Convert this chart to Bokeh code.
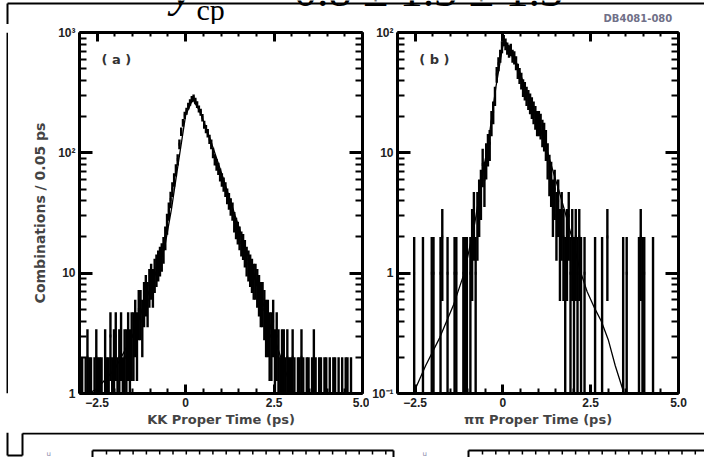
import json
import numpy as np
from bokeh.plotting import figure
from bokeh.layouts import column, row
from bokeh.models import (Range1d, FixedTicker, CustomJSTickFormatter, LinearAxis,
                          LogAxis, Label, ColumnDataSource)
from bokeh.core.properties import value
from bokeh.embed import file_html
from bokeh.resources import INLINE

# ---------------- data ----------------
BIN_WIDTH = 0.05            # ps per bin
FIRST_BIN_CENTER = -2.975   # ps

kk_counts = [
    1, 1, 0, 1, 2, 1, 1, 0, 1, 2,
    1, 1, 1, 0, 2, 1, 1, 3, 1, 2,
    3, 1, 2, 3, 1, 2, 2, 3, 2, 3,
    3, 4, 3, 5, 5, 4, 6, 7, 6, 8,
    9, 8, 10, 11, 12, 13, 14, 16, 20, 26,
    33, 41, 50, 60, 72, 88, 118, 150, 178, 205,
    222, 245, 262, 280, 288, 270, 252, 232, 218, 196,
    172, 158, 146, 130, 118, 100, 88, 80, 74, 66,
    60, 55, 50, 44, 40, 36, 33, 27, 24, 22,
    20, 18, 17, 15, 13, 12, 11, 10, 9, 9,
    8, 7, 6, 6, 5, 4, 4, 3, 3, 4,
    2, 3, 2, 1, 2, 2, 1, 2, 1, 1,
    2, 1, 0, 1, 1, 2, 1, 0, 1, 1,
    0, 1, 2, 1, 0, 1, 1, 0, 1, 1,
    0, 1, 0, 1, 1, 0, 1, 0, 1, 0,
    1, 1, 0, 1, 0, 0, 0, 0, 0, 0,
]

pp_counts = [
    0, 0, 0, 0, 0, 0, 0, 0, 0, 1,
    0, 0, 0, 0, 1, 0, 0, 0, 0, 1,
    1, 0, 0, 0, 1, 2, 0, 0, 1, 0,
    0, 0, 1, 1, 0, 0, 0, 1, 1, 1,
    0, 1, 2, 3, 1, 3, 4, 5, 8, 6,
    9, 11, 12, 18, 22, 30, 45, 55, 64, 76,
    86, 80, 74, 70, 72, 64, 62, 56, 48, 44,
    40, 35, 33, 30, 28, 26, 24, 22, 20, 18,
    18, 17, 15, 14, 12, 9, 7, 6, 4, 5,
    3, 4, 2, 3, 2, 1, 2, 3, 1, 2,
    1, 2, 1, 2, 1, 0, 1, 0, 0, 0,
    0, 0, 1, 0, 0, 0, 1, 0, 0, 2,
    0, 0, 0, 0, 0, 0, 0, 0, 1, 0,
    1, 0, 0, 0, 0, 0, 0, 1, 2, 1,
    1, 0, 0, 0, 0, 1, 0, 0, 0, 0,
    0, 0, 0, 0, 0, 0, 0, 0, 0, 0,
]

kk_fit_t = [-3.0, -2.5, -2.0, -1.5, -1.0, -0.6, -0.4, -0.2, 0.0, 0.2, 0.4, 0.6,
            0.8, 1.0, 1.2, 1.4, 1.6, 1.8, 2.0, 2.2, 2.4, 2.6, 2.8, 3.0, 3.2]
kk_fit_n = [0.9, 1.1, 1.6, 3.0, 7.5, 16, 34, 85, 205, 278, 222, 155,
            105, 70, 46, 30, 20, 13, 8.5, 5.5, 3.6, 2.4, 1.6, 1.1, 0.8]

pp_fit_t = [-2.55, -2.2, -1.8, -1.4, -1.1, -0.8, -0.6, -0.4, -0.2, 0.0, 0.1, 0.2,
            0.4, 0.6, 0.8, 1.0, 1.2, 1.4, 1.6, 1.8, 2.0, 2.2, 2.4, 2.6, 2.8, 3.0,
            3.2, 3.45]
pp_fit_n = [0.1, 0.17, 0.29, 0.55, 1.0, 2.6, 6.0, 13, 35, 78, 82, 74,
            55, 37, 26, 18, 12, 7.5, 4.8, 3.0, 1.8, 1.05, 0.7, 0.52, 0.4, 0.28,
            0.17, 0.1]

x_tick_values = [-2.5, 0.0, 2.5, 5.0]
x_tick_labels = ["\u22122.5", "0", "2.5", "5.0"]
kk_y_ticks = [1, 10, 100, 1000]
kk_y_labels = ["1", "10", "10\u00b2", "10\u00b3"]
pp_y_ticks = [0.1, 1, 10, 100]
pp_y_labels = ["10\u207b\u00b9", "1", "10", "10\u00b2"]

headline_var = "y"
headline_sub = "cp"
headline_rest = "= 0.8 \u00b1 1.3 \u00b1 1.3"
figure_id = "DB4081-080"

FONT = "Liberation Sans"
TITLE_FONT = "DejaVu Sans"
SERIF = "Liberation Serif"
BASELINE_SHIFT = 0.33   # empirical: alphabetic text lands this many em lower


def fmt(values, labels):
    table = {repr(float(v)): l for v, l in zip(values, labels)}
    js = json.dumps(table)
    return CustomJSTickFormatter(code=f"const m = {js}; let k = String(tick); "
                                      "if (k.indexOf('.') < 0 && k.indexOf('e') < 0) k = k + '.0'; "
                                      "return (k in m) ? m[k] : '';")


def style_axis(ax, major_in, minor_in, show_labels=True):
    ax.axis_line_width = 3
    ax.axis_line_color = "black"
    ax.major_tick_in = major_in
    ax.major_tick_out = 0
    ax.minor_tick_in = minor_in
    ax.minor_tick_out = 0
    ax.major_tick_line_width = 3
    ax.minor_tick_line_width = 2
    ax.major_label_text_font = FONT
    ax.major_label_text_font_style = "bold"
    ax.major_label_text_color = "#222222"
    if show_labels:
        ax.major_label_text_font_size = "12px"
        ax.major_label_standoff = 4
    else:
        ax.major_label_text_font_size = "0px"
        ax.major_label_standoff = 0


def make_panel(counts, fit_t, fit_n, y_lo, y_hi, y_major, y_labels, x_title, y_title,
               tag, tag_y, b_left, b_right):
    p = figure(width=b_left + 283 + b_right, height=408,
               x_range=Range1d(-3, 5), y_range=Range1d(y_lo, y_hi),
               y_axis_type="log", output_backend="svg", toolbar_location=None,
               min_border_left=b_left, min_border_right=b_right,
               min_border_top=8, min_border_bottom=39)
    p.grid.visible = False
    p.outline_line_color = None
    p.background_fill_color = "white"
    p.border_fill_color = "white"

    xt = FixedTicker(ticks=x_tick_values, minor_ticks=list(np.arange(-3.0, 5.001, 0.5)))
    minor_y = [m * d for d in y_major[:-1] for m in range(2, 10)]
    yt = FixedTicker(ticks=y_major, minor_ticks=minor_y)

    bx = p.below[0]
    bx.ticker = xt
    bx.formatter = fmt(x_tick_values, x_tick_labels)
    style_axis(bx, 9, 5)
    bx.axis_label = x_title
    bx.axis_label_text_font = TITLE_FONT
    bx.axis_label_text_font_style = "bold"
    bx.axis_label_text_font_size = "13px"
    bx.axis_label_standoff = 2

    ly = p.left[0]
    ly.ticker = yt
    ly.formatter = fmt(y_major, y_labels)
    style_axis(ly, 13, 7)
    if y_title:
        ly.axis_label = y_title
        ly.axis_label_text_font = TITLE_FONT
        ly.axis_label_text_font_style = "bold"
        ly.axis_label_text_font_size = "14px"
        ly.axis_label_standoff = 7

    tx = LinearAxis(ticker=xt, formatter=CustomJSTickFormatter(code="return '';"))
    style_axis(tx, 9, 4, show_labels=False)
    p.add_layout(tx, "above")
    ry = LogAxis(ticker=yt, formatter=CustomJSTickFormatter(code="return '';"))
    style_axis(ry, 13, 7, show_labels=False)
    p.add_layout(ry, "right")

    n = np.array(counts, dtype=float)
    t = FIRST_BIN_CENTER + BIN_WIDTH * np.arange(len(n))
    m = n > 0
    src = ColumnDataSource(dict(
        x0=t[m] - BIN_WIDTH / 2, x1=t[m] + BIN_WIDTH / 2, xc=t[m], y=n[m],
        lo=np.maximum(n[m] - np.sqrt(n[m]), 1e-4), hi=n[m] + np.sqrt(n[m])))
    p.segment(x0="x0", y0="y", x1="x1", y1="y", source=src, line_width=3, line_color="black")
    p.segment(x0="xc", y0="lo", x1="xc", y1="hi", source=src, line_width=2.4, line_color="black")
    p.line(fit_t, fit_n, line_width=1.3, line_color="black")

    p.add_layout(Label(x=-2.38, y=tag_y, text=tag, text_font=TITLE_FONT, text_font_style="bold",
                       text_font_size="13px", text_baseline="middle", text_color="#333333"))
    return p


p1 = make_panel(kk_counts, kk_fit_t, kk_fit_n, 1, 1000, kk_y_ticks, kk_y_labels,
                "KK Proper Time (ps)", "Combinations / 0.05 ps", "( a )", 600, 71, 7)
p2 = make_panel(pp_counts, pp_fit_t, pp_fit_n, 0.1, 100, pp_y_ticks, pp_y_labels,
                "\u03c0\u03c0 Proper Time (ps)", None, "( b )", 60, 26, 26)


class Strip:
    """A plain drawing area; coordinates given as pixels from the page's top-left."""

    def __init__(self, w, h, y_top):
        self.y_top, self.h = y_top, h
        f = figure(width=w, height=h, x_range=Range1d(0, w), y_range=Range1d(0, h),
                   output_backend="svg", toolbar_location=None, min_border=0,
                   x_axis_location=None, y_axis_location=None)
        f.grid.visible = False
        f.outline_line_color = None
        f.background_fill_color = "white"
        f.border_fill_color = "white"
        self.f = f

    def Y(self, ys):
        return [self.y_top + self.h - y for y in ys]

    def lines(self, x0, y0, x1, y1, width=2):
        self.f.segment(x0=x0, y0=self.Y(y0), x1=x1, y1=self.Y(y1),
                       line_width=width, line_color="black")

    def text(self, x, baseline, s, font, size_px, style="normal", color="black"):
        y = baseline - BASELINE_SHIFT * size_px
        self.f.text(x=[x], y=self.Y([y]), text=[s], text_font=value(font),
                    text_font_style=style, text_font_size=f"{size_px}px",
                    text_baseline="alphabetic", text_color=color)


# top strip: cropped headline, border line, figure id
top = Strip(704, 24, 0)
top.lines([7, 7], [3, 3], [704, 7], [3, 24])
top.text(171, 5, headline_var, SERIF, 46, "italic")
top.text(196, 19, headline_sub, SERIF, 30)
top.text(256, 5, headline_rest, SERIF, 46)
top.text(603, 21, figure_id, TITLE_FONT, 10, "bold", "#707088")

# left strip: outer border line
left = Strip(8, 408, 24)
left.lines([7], [24], [7], [432])

# bottom strip: border step and the tops of the next row of panels
bot = Strip(704, 25, 432)
bot.lines([22, 22, 7, 7, 92, 92, 393, 468, 468],
          [433, 433, 455, 432, 450, 450, 450, 450, 450],
          [704, 22, 22, 7, 393, 92, 393, 704, 468],
          [433, 455, 455, 455, 450, 457, 457, 450, 457])
tick_x = list(np.arange(106, 392, 13.3)) + list(np.arange(482, 704, 13.3))
bot.lines(tick_x, [450] * len(tick_x), tick_x, [454] * len(tick_x), width=1.5)
bot.text(46, 456, "u", TITLE_FONT, 7, color="#8888aa")
bot.text(422, 456, "u", TITLE_FONT, 7, color="#8888aa")

layout = column(top.f, row(left.f, p1, p2), bot.f)

with open("out.html", "w") as fh:
    fh.write(file_html(layout, INLINE))
